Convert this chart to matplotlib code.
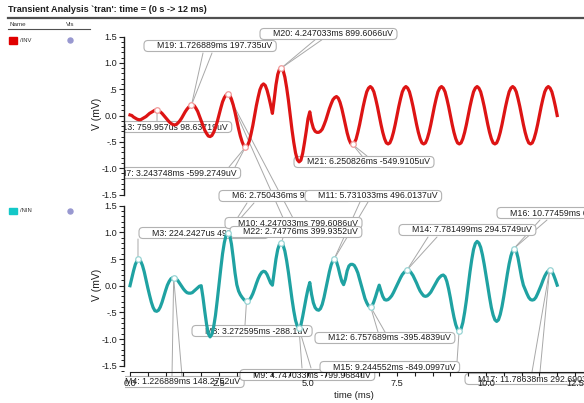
import matplotlib
matplotlib.use("Agg")
import matplotlib.pyplot as plt
from matplotlib.patches import FancyBboxPatch, Rectangle
from matplotlib.ticker import MultipleLocator, FixedLocator
from matplotlib.transforms import Bbox
import numpy as np

# ---------------- data ----------------
# both traces sampled every 50 us from 0 to 12 ms
time_ms = np.round(np.arange(241) * 0.05, 2)

inv_mv = [
    0.01, 0.00, -0.03, -0.05, -0.07, -0.08, -0.08, -0.06, -0.04, -0.02, 0.01, 0.04, 0.06, 0.08, 0.10, 0.10, 0.09, 0.07, 0.04, 0.00,
    -0.04, -0.08, -0.12, -0.15, -0.17, -0.18, -0.17, -0.14, -0.10, -0.05, 0.01, 0.07, 0.12, 0.16, 0.19, 0.20, 0.19, 0.14, 0.08, -0.01,
    -0.10, -0.19, -0.28, -0.34, -0.39, -0.40, -0.38, -0.32, -0.23, -0.12, 0.01, 0.14, 0.26, 0.34, 0.39, 0.41, 0.39, 0.31, 0.20, 0.06,
    -0.10, -0.25, -0.39, -0.50, -0.58, -0.60, -0.57, -0.49, -0.35, -0.19, 0.00, 0.19, 0.35, 0.49, 0.57, 0.60, 0.57, 0.48, 0.35, 0.20,
    0.04, 0.30, 0.58, 0.78, 0.88, 0.90, 0.86, 0.73, 0.53, 0.29, 0.01, -0.27, -0.51, -0.71, -0.84, -0.88, -0.85, -0.72, -0.52, -0.30,
    -0.06, 0.07, -0.12, -0.24, -0.30, -0.32, -0.32, -0.30, -0.26, -0.18, -0.09, 0.02, 0.13, 0.22, 0.30, 0.34, 0.36, 0.33, 0.25, 0.13,
    -0.02, -0.18, -0.33, -0.45, -0.53, -0.55, -0.52, -0.45, -0.32, -0.17, 0.00, 0.17, 0.32, 0.45, 0.52, 0.55, 0.52, 0.45, 0.32, 0.17,
    0.00, -0.17, -0.32, -0.44, -0.52, -0.54, -0.52, -0.44, -0.32, -0.17, 0.00, 0.17, 0.32, 0.45, 0.52, 0.55, 0.52, 0.45, 0.32, 0.17,
    0.00, -0.17, -0.32, -0.44, -0.52, -0.54, -0.52, -0.44, -0.32, -0.17, 0.00, 0.17, 0.32, 0.45, 0.52, 0.55, 0.52, 0.45, 0.32, 0.17,
    0.00, -0.17, -0.32, -0.44, -0.52, -0.54, -0.52, -0.44, -0.32, -0.17, 0.00, 0.17, 0.32, 0.45, 0.52, 0.55, 0.52, 0.45, 0.32, 0.17,
    0.00, -0.17, -0.32, -0.44, -0.52, -0.54, -0.52, -0.44, -0.32, -0.17, 0.00, 0.17, 0.32, 0.45, 0.52, 0.55, 0.52, 0.45, 0.32, 0.17,
    0.00, -0.17, -0.32, -0.44, -0.52, -0.54, -0.52, -0.44, -0.32, -0.17, 0.00, 0.17, 0.32, 0.45, 0.52, 0.55, 0.52, 0.45, 0.32, 0.17,
    0.00,
]

nin_mv = [
    0.00, 0.14, 0.28, 0.40, 0.47, 0.49, 0.46, 0.38, 0.26, 0.11, -0.04, -0.18, -0.31, -0.41, -0.47, -0.48, -0.46, -0.40, -0.31, -0.20,
    -0.09, 0.01, 0.08, 0.13, 0.15, 0.15, 0.13, 0.09, 0.04, -0.01, -0.06, -0.10, -0.13, -0.14, -0.14, -0.13, -0.10, -0.07, -0.04, -0.01,
    0.00, -0.22, -0.48, -0.72, -0.90, -0.96, -0.91, -0.77, -0.56, -0.28, 0.02, 0.32, 0.60, 0.81, 0.95, 1.00, 0.95, 0.78, 0.52, 0.24,
    0.02, -0.10, -0.17, -0.22, -0.26, -0.29, -0.29, -0.27, -0.22, -0.15, -0.06, 0.04, 0.13, 0.20, 0.25, 0.27, 0.26, 0.21, 0.13, 0.05,
    0.01, 0.25, 0.50, 0.68, 0.78, 0.80, 0.76, 0.65, 0.47, 0.25, 0.00, -0.25, -0.47, -0.65, -0.76, -0.80, -0.74, -0.58, -0.40, -0.22,
    -0.06, 0.06, -0.16, -0.32, -0.41, -0.45, -0.46, -0.43, -0.35, -0.22, -0.06, 0.10, 0.26, 0.39, 0.47, 0.50, 0.45, 0.34, 0.20, 0.08,
    0.02, 0.12, 0.28, 0.37, 0.40, 0.40, 0.38, 0.32, 0.24, 0.12, 0.00, -0.12, -0.24, -0.32, -0.38, -0.40, -0.38, -0.30, -0.20, -0.09,
    0.01, -0.10, -0.20, -0.26, -0.27, -0.26, -0.23, -0.19, -0.13, -0.06, 0.01, 0.08, 0.15, 0.21, 0.25, 0.28, 0.29, 0.28, 0.24, 0.19,
    0.12, 0.05, -0.03, -0.10, -0.15, -0.19, -0.20, -0.19, -0.16, -0.12, -0.06, 0.00, 0.06, 0.12, 0.16, 0.19, 0.20, 0.17, 0.08, -0.06,
    -0.23, -0.42, -0.59, -0.73, -0.82, -0.85, -0.81, -0.69, -0.50, -0.27, -0.01, 0.26, 0.49, 0.68, 0.79, 0.83, 0.80, 0.72, 0.58, 0.40,
    0.20, -0.01, -0.22, -0.41, -0.55, -0.64, -0.67, -0.64, -0.54, -0.39, -0.20, 0.01, 0.22, 0.41, 0.56, 0.66, 0.69, 0.65, 0.52, 0.33,
    0.15, 0.01, -0.07, -0.15, -0.22, -0.26, -0.27, -0.26, -0.22, -0.15, -0.07, 0.01, 0.10, 0.18, 0.24, 0.28, 0.29, 0.27, 0.20, 0.11,
    0.01,
]

# markers placed on /INV
inv_mark_names = ["M13", "M19", "M22", "M7", "M20", "M21"]
inv_mark_t = [0.759957, 1.726889, 2.74776, 3.243748, 4.247033, 6.250826]
inv_mark_v = [0.09863719, 0.197735, 0.3999352, -0.5992749, 0.8996066, -0.5499105]
inv_mark_text = ["M13: 759.957us 98.63719uV", "M19: 1.726889ms 197.735uV",
                 "M22: 2.74776ms 399.9352uV", "M7: 3.243748ms -599.2749uV",
                 "M20: 4.247033ms 899.6066uV", "M21: 6.250826ms -549.9105uV"]

# markers placed on /NIN
nin_mark_names = ["M3", "M4", "M6", "M8", "M10", "M9", "M11", "M12", "M14", "M15", "M16", "M17"]
nin_mark_t = [0.2242427, 1.226889, 2.750436, 3.272595, 4.247033, 4.747033,
              5.731033, 6.757689, 7.781499, 9.244552, 10.77459, 11.78638]
nin_mark_v = [0.4928135, 0.1482752, 0.9957664, -0.2881, 0.7996086, -0.7999684,
              0.4960137, -0.3954839, 0.2945749, -0.8490997, 0.6912235, 0.2926903]
nin_mark_text = ["M3: 224.2427us 492.8135uV", "M4: 1.226889ms 148.2752uV",
                 "M6: 2.750436ms 995.7664uV", "M8: 3.272595ms -288.1uV",
                 "M10: 4.247033ms 799.6086uV", "M9: 4.747033ms -799.9684uV",
                 "M11: 5.731033ms 496.0137uV", "M12: 6.757689ms -395.4839uV",
                 "M14: 7.781499ms 294.5749uV", "M15: 9.244552ms -849.0997uV",
                 "M16: 10.77459ms 691.2235uV", "M17: 11.78638ms 292.6903uV"]

ytick_vals = [-1.5, -1.0, -0.5, 0.0, 0.5, 1.0, 1.5]
ytick_lbls = ["-1.5", "-1.0", "-.5", "0.0", ".5", "1.0", "1.5"]
xtick_vals = [0.0, 2.5, 5.0, 7.5, 10.0, 12.5]
xtick_lbls = ["0.0", "2.5", "5.0", "7.5", "10.0", "12.5"]

# ---------------- style ----------------
RED = "#dd1414"
RED_LEG = "#e00000"
RED_MARK = "#f09a9a"
TEAL = "#1fa2a2"
TEAL_LEG = "#14c8c8"
TEAL_MARK = "#98d4d4"
LEAD = "#a8a8a8"
INK = "#1e1e1e"

plt.rcParams["font.family"] = ["Liberation Sans", "DejaVu Sans"]

W, H = 584, 403
fig = plt.figure(figsize=(W / 100, H / 100), dpi=100)

# layer in screenshot pixel coordinates (y pointing down) for panel texts and callouts
lay = fig.add_axes([0, 0, 1, 1], zorder=0)
lay.set_xlim(0, W)
lay.set_ylim(H, 0)
lay.axis("off")


def rect(x0, y_top, x1, y_bot):
    return [x0 / W, 1 - y_bot / H, (x1 - x0) / W, (y_bot - y_top) / H]


PX_PER_MS = 35.6
X_ZERO = 130
xlim = ((124 - X_ZERO) / PX_PER_MS, (W - X_ZERO) / PX_PER_MS)

ax_top = fig.add_axes(rect(124, 36.5, W, 194.5), zorder=1)
ax_bot = fig.add_axes(rect(124, 205.7, W, 371.7), zorder=1)
ax_top.set_ylim(-1.5, 1.5)
ax_bot.set_ylim(-1.5 - 6 / 53.3, 1.5)

for ax in (ax_top, ax_bot):
    ax.set_facecolor("none")
    ax.set_xlim(*xlim)
    ax.spines["top"].set_visible(False)
    ax.spines["right"].set_visible(False)
    ax.spines["left"].set_bounds(-1.5, 1.5)
    ax.spines["left"].set_color(INK)
    ax.spines["left"].set_linewidth(1.0)
    ax.yaxis.set_major_locator(FixedLocator(ytick_vals))
    ax.set_yticklabels(ytick_lbls)
    ax.yaxis.set_minor_locator(MultipleLocator(0.1))
    ax.tick_params(axis="y", which="major", length=3.6, width=0.8, pad=1.5,
                   labelsize=6.6, colors=INK)
    ax.tick_params(axis="y", which="minor", length=2.2, width=0.7, colors=INK)

ax_top.spines["bottom"].set_visible(False)
ax_top.set_xticks([])

ax_bot.spines["bottom"].set_bounds(0, xlim[1])
ax_bot.spines["bottom"].set_color(INK)
ax_bot.set_xticks(xtick_vals)
ax_bot.set_xticklabels(xtick_lbls)
ax_bot.xaxis.set_minor_locator(MultipleLocator(0.5))
ax_bot.tick_params(axis="x", which="both", length=3.0, width=0.8, pad=2,
                   labelsize=6.6, colors=INK)

# traces
ax_top.plot(time_ms, inv_mv, color=RED, lw=2.3, solid_joinstyle="round", zorder=3)
ax_bot.plot(time_ms, nin_mv, color=TEAL, lw=2.3, solid_joinstyle="round", zorder=3)
ax_top.plot(inv_mark_t, inv_mark_v, "o", ms=4, mfc="white", mec=RED_MARK, mew=0.9, zorder=4)
ax_bot.plot(nin_mark_t, nin_mark_v, "o", ms=4, mfc="white", mec=TEAL_MARK, mew=0.9, zorder=4)

# header and name/vis panel
lay.text(8, 9, "Transient Analysis `tran': time = (0 s -> 12 ms)", fontsize=6.6,
         fontweight="bold", color=INK, va="center")
lay.plot([8, W], [18, 18], color="#505050", lw=1.6)
lay.text(10, 24.5, "Name", fontsize=4.5, color="#333333", va="center")
lay.text(66, 24.5, "Vis", fontsize=4.5, color="#333333", va="center")
lay.plot([8, 90], [29, 29], color="#505050", lw=0.8)
for y0, col, name in [(37, RED_LEG, "/INV"), (207.5, TEAL_LEG, "/NIN")]:
    lay.add_patch(Rectangle((9, y0), 8, 6.5, color=col))
    lay.text(19.5, y0 + 3.5, name, fontsize=4.2, color="#333333", va="center")
    lay.plot(69.5, y0 + 3, "o", ms=3.6, color="#9898d0")

lay.text(97, 114, "V (mV)", rotation=90, fontsize=7.5, color=INK, ha="center", va="center")
lay.text(97, 285, "V (mV)", rotation=90, fontsize=7.5, color=INK, ha="center", va="center")
lay.text(354, 395, "time (ms)", fontsize=6.8, color=INK, ha="center", va="center")

# callout layout: text start x, text centre y, leader start points (screen px)
callouts = {
    "M13": (115, 127, [(157, 122)]),
    "M19": (157, 46, [(203, 53), (212, 53)]),
    "M20": (273, 34, [(316, 39), (323, 39)]),
    "M7": (119, 173, [(229, 167), (235, 167)]),
    "M21": (307, 162, [(362, 156), (367, 156)]),
    "M3": (152, 233, [(138, 239)]),
    "M10": (238, 223, [(286, 229)]),
    "M22": (243, 232, [(284, 220), (294, 220)]),
    "M6": (232, 196, [(247, 203), (254, 203)]),
    "M11": (318, 196, [(360, 202), (368, 202)]),
    "M8": (205, 331, [(245, 325)]),
    "M12": (328, 338, [(378, 332), (385, 332)]),
    "M14": (412, 230, [(428, 237), (437, 237)]),
    "M16": (510, 213, [(540, 220), (547, 220)]),
    "M4": (125, 382, [(172, 376), (182, 376)]),
    "M9": (253, 375, [(302, 368), (311, 368)]),
    "M15": (333, 367, [(457, 362)]),
    "M17": (478, 379, [(532, 372), (540, 372)]),
}

marks = {}
for n, t, v, s in zip(inv_mark_names, inv_mark_t, inv_mark_v, inv_mark_text):
    marks[n] = (ax_top, t, v, s)
for n, t, v, s in zip(nin_mark_names, nin_mark_t, nin_mark_v, nin_mark_text):
    marks[n] = (ax_bot, t, v, s)

# callouts are cut at the y axis line, as in the viewer
clip_box = Bbox.from_extents(124.5, 0, W, H)

texts = []
for i, (n, (tx, ty, anchors)) in enumerate(callouts.items()):
    ax, t, v, s = marks[n]
    for a in anchors:
        lay.annotate("", xy=(t, v), xycoords=ax.transData, xytext=a, textcoords="data",
                     arrowprops=dict(arrowstyle="-", color=LEAD, lw=0.7, shrinkA=0, shrinkB=2),
                     annotation_clip=False, zorder=1)
    z = 2 + 0.02 * i
    txt = lay.text(tx, ty, s, fontsize=6.3, color=INK, ha="left", va="center", zorder=z + 0.01)
    txt.set_clip_box(clip_box)
    txt.set_clip_on(True)
    texts.append((txt, z))

fig.canvas.draw()
renderer = fig.canvas.get_renderer()
to_lay = lay.transData.inverted()
for txt, z in texts:
    bb = txt.get_window_extent(renderer)
    x0, y_top = to_lay.transform((bb.x0, bb.y1))
    x1, y_bot = to_lay.transform((bb.x1, bb.y0))
    box = FancyBboxPatch((x0 - 13, y_top - 1), (x1 - x0) + 17, (y_bot - y_top) + 2,
                         boxstyle="round,pad=0,rounding_size=4", fc="white",
                         ec="#b2b2b2", lw=0.8, zorder=z)
    lay.add_patch(box)
    box.set_clip_box(clip_box)
    box.set_clip_on(True)

fig.savefig("out.png", dpi=100, facecolor="white")
